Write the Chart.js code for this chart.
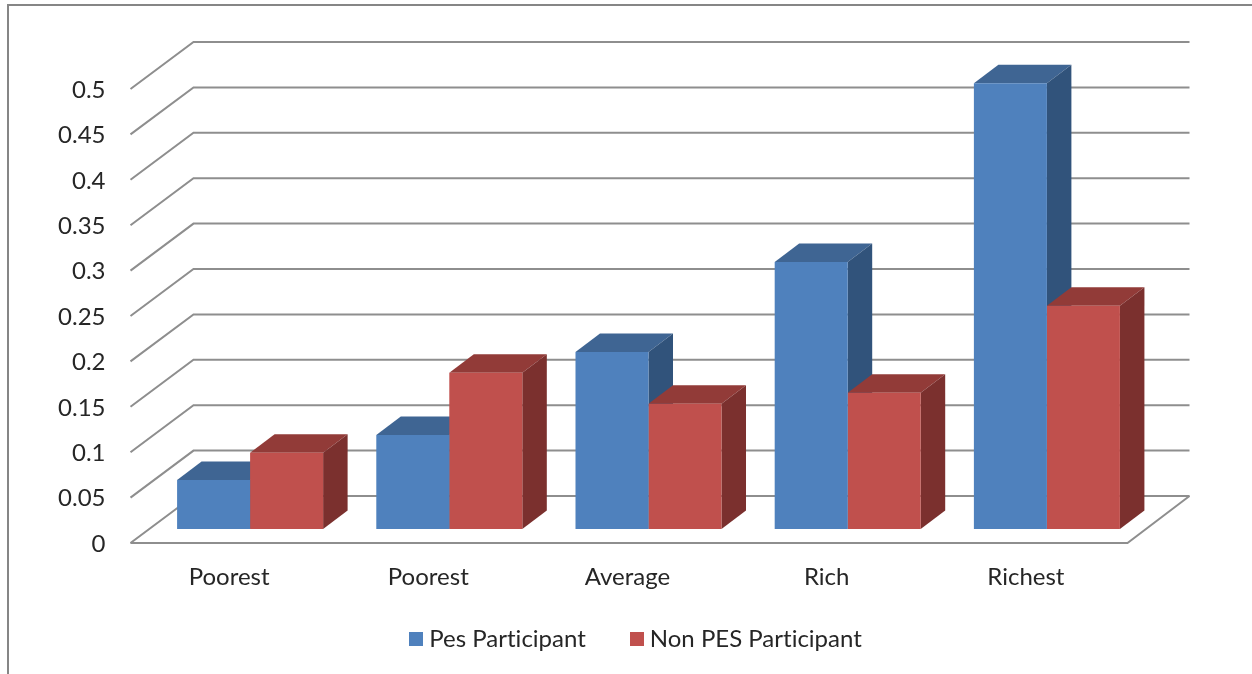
<!DOCTYPE html>
<html>
<head>
<meta charset="utf-8">
<title>PES participation by wealth group</title>
<script src="https://cdn.jsdelivr.net/npm/chart.js@4/dist/chart.umd.min.js"></script>
<style>
  html, body { margin: 0; padding: 0; background: #fff; overflow: hidden; }
  #frame { position: absolute; left: 7px; top: 4px; right: 0; bottom: 0;
           border-left: 2px solid #868686; border-top: 2px solid #868686; }
  #wrap { position: absolute; left: 0; top: 0; width: 1252px; height: 674px; }
</style>
</head>
<body>
<div id="frame"></div>
<div id="wrap"><canvas id="chart" width="1252" height="674"></canvas></div>
<script>
const categories = ['Poorest', 'Poorest', 'Average', 'Rich', 'Richest'];
const pesParticipant = [0.054, 0.1035, 0.195, 0.294, 0.491];
const nonPesParticipant = [0.084, 0.172, 0.138, 0.15, 0.246];
const yTicks = { min: 0, max: 0.5, step: 0.05 };

const BLUE = { front: '#4F81BD', top: '#3F6593', side: '#31537B' };
const RED = { front: '#C0504D', top: '#923B38', side: '#7B302E' };
const GRID = '#8E8E8E';
const FONT = { family: 'Lato, Carlito, sans-serif', size: 24 };

// Depth of the bars and the offsets of the back wall and front floor edge
// relative to the plane the bars stand on.
const BAR_DEPTH = { dx: 24.5, dy: -18.5 };
const WALL = { dx: 43, dy: -33 };
const FRONT = { dx: -20, dy: 14 };
const LEGEND_SHIFT = { x: 45.75, y: -13 };

function poly(ctx, pts, fill) {
  ctx.beginPath();
  pts.forEach((p, i) => i ? ctx.lineTo(p[0], p[1]) : ctx.moveTo(p[0], p[1]));
  ctx.closePath();
  ctx.fillStyle = fill;
  ctx.fill();
}

const perspective = {
  id: 'perspective',
  afterLayout(chart) {
    // The legend sits centred under the floor rather than under the whole canvas.
    const lg = chart.legend;
    lg.left += LEGEND_SHIFT.x; lg.right += LEGEND_SHIFT.x;
    lg.top += LEGEND_SHIFT.y; lg.bottom += LEGEND_SHIFT.y;
  },
  beforeDraw(chart) {
    // Plain glyph shaping: no "ti" ligature in the labels.
    chart.ctx.textRendering = 'optimizeSpeed';
  },
  beforeDatasetsDraw(chart) {
    const { ctx, chartArea: a, scales: { y } } = chart;
    ctx.save();
    ctx.strokeStyle = GRID;
    ctx.lineWidth = 2;
    ctx.lineJoin = 'miter';

    // Back wall and side wall rules, one per tick.
    y.ticks.forEach(t => {
      const py = y.getPixelForValue(t.value);
      ctx.beginPath();
      ctx.moveTo(a.left + FRONT.dx, py + FRONT.dy);
      ctx.lineTo(a.left + WALL.dx, py + WALL.dy);
      ctx.lineTo(a.right + WALL.dx, py + WALL.dy);
      ctx.stroke();
    });

    // Floor outline.
    const y0 = y.getPixelForValue(0);
    ctx.beginPath();
    ctx.moveTo(a.left + FRONT.dx, y0 + FRONT.dy);
    ctx.lineTo(a.right + FRONT.dx + 1, y0 + FRONT.dy);
    ctx.lineTo(a.right + WALL.dx, y0 + WALL.dy);
    ctx.stroke();

    // Top and side faces behind each bar's front face, category by category.
    const palettes = [BLUE, RED];
    categories.forEach((_, c) => {
      palettes.forEach((pal, d) => {
        const b = chart.getDatasetMeta(d).data[c];
        const l = b.x - b.width / 2, r = b.x + b.width / 2;
        const { dx, dy } = BAR_DEPTH;
        poly(ctx, [[l, b.y], [l + dx, b.y + dy], [r + dx, b.y + dy], [r, b.y]], pal.top);
        poly(ctx, [[r, b.y], [r + dx, b.y + dy], [r + dx, b.base + dy], [r, b.base]], pal.side);
      });
    });
    ctx.restore();
  }
};

// Solid 14px legend swatch.
function swatch(color) {
  const c = document.createElement('canvas');
  c.width = c.height = 14;
  const g = c.getContext('2d');
  g.fillStyle = color;
  g.fillRect(0, 0, 14, 14);
  return c;
}

new Chart(document.getElementById('chart'), {
  type: 'bar',
  data: {
    labels: categories,
    datasets: [
      { label: 'Pes Participant', data: pesParticipant, backgroundColor: BLUE.front },
      { label: 'Non PES Participant', data: nonPesParticipant, backgroundColor: RED.front }
    ]
  },
  options: {
    responsive: false,
    animation: false,
    layout: { padding: { left: 40, right: 105.5, top: 75, bottom: 0 } },
    datasets: { bar: { categoryPercentage: 0.733, barPercentage: 1, borderWidth: 0 } },
    scales: {
      x: {
        grid: { display: false, drawTicks: false },
        border: { display: false },
        afterFit(s) { s.height = 61; },
        ticks: {
          font: FONT, color: '#262626', padding: 34, labelOffset: -21,
          autoSkip: false, maxRotation: 0
        }
      },
      y: {
        min: yTicks.min,
        max: yTicks.max,
        grid: { display: false, drawTicks: false },
        border: { display: false },
        afterFit(s) { s.width = 110.5; },
        ticks: {
          stepSize: yTicks.step, font: FONT, color: '#262626', padding: 45, labelOffset: 15,
          callback: v => String(+v.toFixed(2))
        }
      }
    },
    plugins: {
      tooltip: { enabled: false },
      legend: {
        position: 'bottom',
        labels: {
          font: { family: FONT.family, size: 24 },
          color: '#262626',
          usePointStyle: true,
          boxWidth: 2,
          boxHeight: 2,
          padding: 50,
          generateLabels(chart) {
            return Chart.defaults.plugins.legend.labels.generateLabels(chart).map((item, i) => {
              item.pointStyle = swatch([BLUE.front, RED.front][i]);
              return item;
            });
          }
        }
      }
    }
  },
  plugins: [perspective]
});
</script>
</body>
</html>
